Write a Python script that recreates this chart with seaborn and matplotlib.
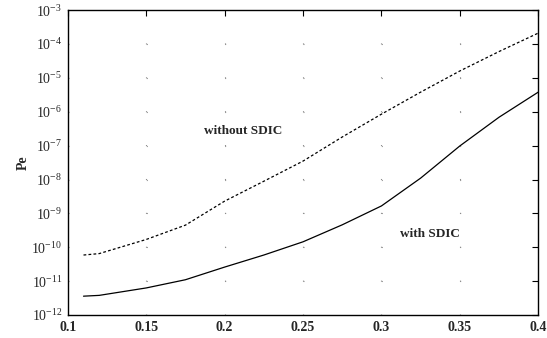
import matplotlib
matplotlib.use("Agg")
import matplotlib.pyplot as plt
import seaborn as sns
import pandas as pd
from matplotlib.ticker import LogLocator, LogFormatterSciNotation, NullLocator, FixedLocator

# Error probability versus offset
offset = [0.11, 0.12, 0.15, 0.175, 0.2, 0.225, 0.25, 0.275, 0.3, 0.325, 0.35, 0.375, 0.4]
pe_without = [5.9e-11, 6.5e-11, 1.7e-10, 4.5e-10, 2.3e-9, 8.9e-9, 3.5e-8, 1.8e-7,
              8.5e-7, 3.8e-6, 1.6e-5, 6.0e-5, 2.1e-4]
pe_with = [3.6e-12, 3.8e-12, 6.3e-12, 1.1e-11, 2.6e-11, 5.9e-11, 1.45e-10, 4.6e-10,
           1.66e-9, 1.1e-8, 9.8e-8, 6.9e-7, 3.8e-6]
x_ticks = [0.1, 0.15, 0.2, 0.25, 0.3, 0.35, 0.4]
x_tick_labels = ["0.1", "0.15", "0.2", "0.25", "0.3", "0.35", "0.4"]

sns.set_theme(style="white")
plt.rcParams["font.family"] = ["Liberation Serif", "DejaVu Serif"]
plt.rcParams["mathtext.fontset"] = "custom"
plt.rcParams["mathtext.rm"] = "Liberation Serif:bold"
plt.rcParams["mathtext.it"] = "Liberation Serif:bold"
plt.rcParams["mathtext.bf"] = "Liberation Serif:bold"
plt.rcParams["lines.scale_dashes"] = False

df = pd.DataFrame({
    "offset": offset * 2,
    "Pe": pe_without + pe_with,
    "case": ["without SDIC"] * len(offset) + ["with SDIC"] * len(offset),
})

fig = plt.figure(figsize=(5.47, 3.38), dpi=100)
ax = fig.add_axes([0.124, 0.068, 0.86, 0.902])

sns.lineplot(data=df[df.case == "without SDIC"], x="offset", y="Pe", ax=ax,
             color="black", lw=0.9, linestyle=(0, (2.0, 1.6)))
sns.lineplot(data=df[df.case == "with SDIC"], x="offset", y="Pe", ax=ax,
             color="black", lw=0.9)

ax.set_yscale("log")
ax.set_xlim(0.1, 0.4)
ax.set_ylim(1e-12, 1e-3)
ax.yaxis.set_major_locator(LogLocator(base=10, numticks=20))
ax.yaxis.set_major_formatter(LogFormatterSciNotation())
ax.yaxis.set_minor_locator(NullLocator())
ax.xaxis.set_major_locator(FixedLocator(x_ticks))
ax.set_xticklabels(x_tick_labels)

ax.tick_params(axis="both", which="major", direction="in", length=4, width=0.8,
               labelsize=10, top=True, right=True, color="black", pad=4)
for lab in ax.get_xticklabels():
    lab.set_fontweight("bold")
for sp in ax.spines.values():
    sp.set_color("black")
    sp.set_linewidth(1.0)

# sparse dotted grid: dots fall at the tick intersections
ax.xaxis.grid(True, color="#888888", lw=0.8, linestyle=(0, (0.7, 23.7)))
ax.yaxis.grid(True, color="#888888", lw=0.8, linestyle=(0, (0.7, 55.7)))

ax.set_xlabel("")
ax.xaxis.label.set_visible(False)
ax.set_ylabel("Pe", fontsize=10, fontweight="bold", labelpad=1)

ax.text(0.2117, 10 ** -6.57, "without SDIC", fontsize=9.5, fontweight="bold",
        ha="center", va="center")
ax.text(0.331, 10 ** -9.61, "with SDIC", fontsize=9.5, fontweight="bold",
        ha="center", va="center")

fig.savefig("out.png", dpi=100)
